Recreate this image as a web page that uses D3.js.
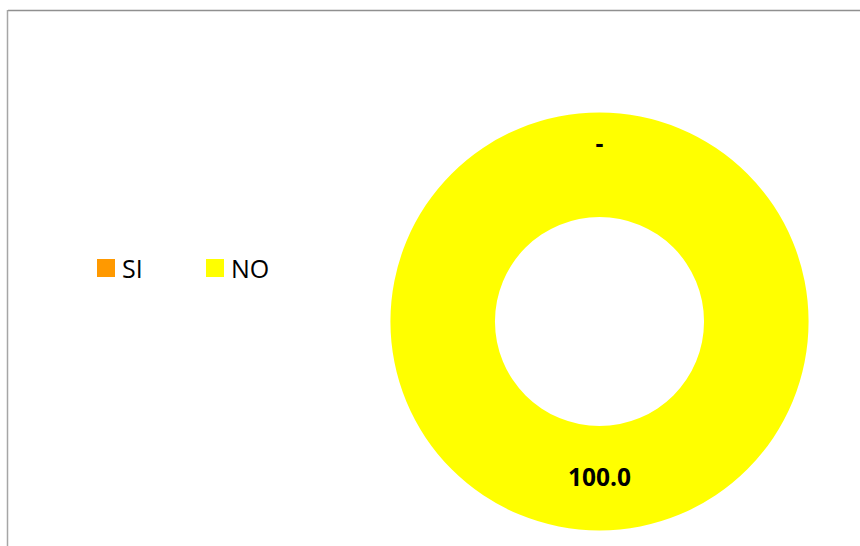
<!DOCTYPE html>
<html>
<head>
<meta charset="utf-8">
<script src="https://cdn.jsdelivr.net/npm/d3@7"></script>
<style>
  body { margin: 0; background: #fff; }
  svg { display: block; }
</style>
</head>
<body>
<div id="container"></div>
<script>
// chart data
const categories = ["SI", "NO"];
const values = [0, 100];
const colors = ["#FF9900", "#FFFF00"];

const width = 860, height = 546;

const svg = d3.select("#container")
  .append("svg")
  .attr("width", width)
  .attr("height", height);

// frame (only top and left edges show in the crop)
svg.append("line")
  .attr("x1", 8).attr("y1", 10.5).attr("x2", width).attr("y2", 10.5)
  .attr("stroke", "#909090").attr("stroke-width", 1.5);
svg.append("line")
  .attr("x1", 7.5).attr("y1", 10).attr("x2", 7.5).attr("y2", height)
  .attr("stroke", "#a6a6a6").attr("stroke-width", 1.5);

const cx = 599.5, cy = 321.5;
const outerR = 209, innerR = 104.5;

const pie = d3.pie().sort(null).value(d => d.value);
const arcs = pie(categories.map((c, i) => ({ name: c, value: values[i] })));

const arc = d3.arc().innerRadius(innerR).outerRadius(outerR);

const g = svg.append("g").attr("transform", `translate(${cx},${cy})`);

g.selectAll("path")
  .data(arcs)
  .enter()
  .append("path")
  .attr("d", arc)
  .attr("fill", (d, i) => colors[i]);

// labels: zero value shows a dash, placed a bit further out
const labelArc = d3.arc().innerRadius(155).outerRadius(155);
const zeroArc = d3.arc().innerRadius(179).outerRadius(179);

g.selectAll("text.lbl")
  .data(arcs)
  .enter()
  .append("text")
  .attr("class", "lbl")
  .attr("transform", d => `translate(${(d.value === 0 ? zeroArc : labelArc).centroid(d)})`)
  .attr("text-anchor", "middle")
  .attr("dominant-baseline", "central")
  .style("font-family", "'Open Sans', sans-serif")
  .style("font-weight", "bold")
  .style("font-size", "24.5px")
  .attr("fill", "#000")
  .text(d => d.value === 0 ? "-" : d3.format(".1f")(d.value));

// legend
const legend = svg.append("g").attr("transform", "translate(97,259)");
const item = legend.selectAll("g")
  .data(categories)
  .enter()
  .append("g")
  .attr("transform", (d, i) => `translate(${i * 109},0)`);

item.append("rect")
  .attr("width", 18).attr("height", 18)
  .attr("fill", (d, i) => colors[i]);

item.append("text")
  .attr("x", 25).attr("y", 9)
  .attr("dominant-baseline", "central")
  .style("font-family", "'Open Sans', sans-serif")
  .style("font-size", "25px")
  .attr("fill", "#000")
  .text(d => d);
</script>
</body>
</html>
